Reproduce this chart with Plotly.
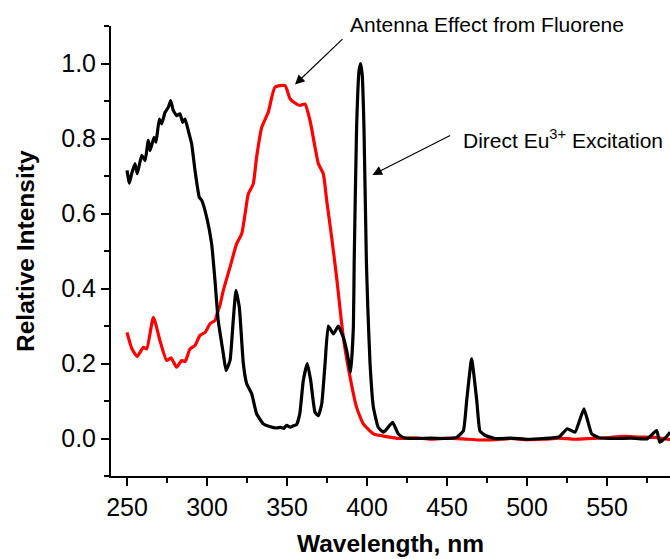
import plotly.graph_objects as go

# Black curve (Eu3+ direct excitation spectrum)
black_x = [250, 251.5, 252.9, 255, 256.4, 259.2, 261.3, 263.3, 264.4, 266.9, 268.1, 270.2, 271.7,
           273.8, 275.8, 277.3, 278.9, 281, 283.1, 284.8, 286.3, 288.3, 290.4, 292.5, 295.2, 296.7,
           299.8, 302.9, 305, 307, 310.2, 311.9, 314.4, 316.4, 318.1, 320.2, 322.7, 324.8, 327.9,
           331, 335.2, 339, 343.6, 346, 348, 349.8, 352, 354, 356, 358, 360.2, 362.7, 364.8, 367.5,
           369.6, 371.7, 373.8, 375.8, 379, 382, 385.2, 387.7, 389.8, 391.5, 392, 393.5, 395, 396,
           397, 398.1, 399.6, 400.5, 401.9, 404, 407, 410.2, 412.3, 416, 419.6, 423, 430, 440, 450,
           456, 460.2, 462.3, 465.4, 468.6, 470.6, 474, 480, 490, 500, 510, 520, 525.2, 530, 535.6,
           540.4, 545, 555, 565, 575, 581, 583, 585.2, 587, 589.4]
black_y = [0.715, 0.681, 0.706, 0.733, 0.706, 0.755, 0.741, 0.795, 0.768, 0.803, 0.79, 0.852, 0.839,
           0.87, 0.883, 0.901, 0.875, 0.861, 0.866, 0.843, 0.852, 0.821, 0.786, 0.715, 0.643, 0.635,
           0.59, 0.519, 0.421, 0.315, 0.226, 0.181, 0.208, 0.315, 0.395, 0.35, 0.2, 0.146, 0.12,
           0.066, 0.039, 0.032, 0.028, 0.030, 0.027, 0.035, 0.030, 0.034, 0.037, 0.066, 0.155, 0.2,
           0.155, 0.07, 0.061, 0.092, 0.2, 0.30, 0.279, 0.30, 0.27, 0.226, 0.177, 0.30, 0.475, 0.83,
           0.98, 1.0, 0.97, 0.83, 0.475, 0.35, 0.2, 0.083, 0.03, 0.017, 0.025, 0.043, 0.012, 0.002,
           0.0, 0.001, 0.0, 0.003, 0.02, 0.101, 0.2125, 0.101, 0.02, 0.008, 0.0, 0.001, -0.002, 0.0,
           0.004, 0.026, 0.017, 0.079, 0.0125, 0.002, 0.0, 0.001, -0.001, 0.021, -0.01, -0.003,
           0.004, 0.017]

# Red curve (antenna effect from fluorene)
red_x = [250, 253, 256.4, 260.2, 262.3, 266.5, 270.6, 274.8, 277.5, 281, 284.2, 286.3, 289.4, 292.5,
         295.6, 298.8, 301.9, 305, 306.5, 308.1, 310.2, 314.4, 318.5, 321.7, 323.8, 325.8, 328.9,
         331, 334.2, 338.3, 342.5, 348.8, 351.9, 356, 358.1, 361.2, 364.4, 367.5, 369.6, 372.7,
         374.8, 377.9, 381, 385.2, 389.4, 393.5, 397.7, 404, 412.3, 420, 430, 440, 450, 460, 470,
         480, 490, 500, 510, 520, 530, 540, 550, 560, 570, 580, 589.4]
red_y = [0.283, 0.24, 0.219, 0.243, 0.239, 0.323, 0.261, 0.208, 0.215, 0.19, 0.208, 0.205, 0.239,
         0.248, 0.275, 0.283, 0.306, 0.315, 0.335, 0.355, 0.395, 0.457, 0.519, 0.546, 0.599, 0.652,
         0.679, 0.75, 0.83, 0.87, 0.937, 0.941, 0.906, 0.892, 0.888, 0.892, 0.848, 0.777, 0.733,
         0.706, 0.635, 0.537, 0.43, 0.27, 0.164, 0.083, 0.039, 0.0125, 0.005, 0.0, 0.002, -0.002,
         0.001, -0.001, -0.004, -0.003, 0.0, -0.003, -0.002, 0.001, -0.002, 0.0, 0.002, 0.006,
         0.004, 0.003, -0.003]

FONT = "Arial, Liberation Sans, sans-serif"

fig = go.Figure()
fig.add_trace(go.Scatter(x=red_x, y=red_y, mode="lines",
                         line=dict(color="#ff0000", width=3.2, shape="spline", smoothing=0.5),
                         showlegend=False))
fig.add_trace(go.Scatter(x=black_x, y=black_y, mode="lines",
                         line=dict(color="#000000", width=3.2, shape="spline", smoothing=0.4),
                         showlegend=False))

axis_common = dict(showline=True, linecolor="black", linewidth=2, ticks="outside",
                   ticklen=8, tickwidth=1.5, tickcolor="black", showgrid=False,
                   zeroline=False, tickfont=dict(family=FONT, size=25, color="black"))

fig.update_xaxes(range=[240, 589.375], tick0=250, dtick=50,
                 minor=dict(dtick=25, tick0=250, ticklen=5, tickwidth=1.5, tickcolor="black",
                            ticks="outside", showgrid=False),
                 **axis_common)
fig.update_yaxes(range=[-0.1, 1.1], tick0=0, dtick=0.2, tickformat=".1f",
                 minor=dict(dtick=0.1, tick0=0, ticklen=5, tickwidth=1.5, tickcolor="black",
                            ticks="outside", showgrid=False),
                 **axis_common)

annotations = [
    dict(text="<b>Wavelength, nm</b>", xref="paper", yref="paper", x=0.5, y=0,
         xanchor="center", yanchor="middle", yshift=-67, showarrow=False,
         font=dict(family=FONT, size=24.5, color="black")),
    dict(text="<b>Relative Intensity</b>", xref="paper", yref="paper", x=0, y=0.5,
         xanchor="center", yanchor="middle", xshift=-86, textangle=-90, showarrow=False,
         font=dict(family=FONT, size=24.5, color="black")),
    dict(text="Antenna Effect from Fluorene", xref="x", yref="paper", x=388.1, y=(1.104 + 0.1) / 1.2,
         xanchor="left", yanchor="middle", showarrow=False,
         font=dict(family=FONT, size=21, color="black")),
    dict(text="Direct Eu<sup>3+</sup> Excitation", xref="x", yref="y", x=458.75, y=0.80,
         xanchor="left", yanchor="middle", showarrow=False,
         font=dict(family=FONT, size=21, color="black")),
    dict(text="", xref="x", yref="y", x=355, y=0.944, axref="x", ayref="y", ax=385.6, ay=1.069,
         showarrow=True, arrowhead=2, arrowsize=1.6, arrowwidth=1.2, arrowcolor="black",
         standoff=0, startstandoff=0),
    dict(text="", xref="x", yref="y", x=403.4, y=0.703, axref="x", ayref="y", ax=452.9, ay=0.81,
         showarrow=True, arrowhead=2, arrowsize=1.6, arrowwidth=1.2, arrowcolor="black",
         standoff=0, startstandoff=0),
]

fig.update_layout(width=670, height=559, margin=dict(l=111, r=0, t=26, b=83),
                  plot_bgcolor="white", paper_bgcolor="white", annotations=annotations,
                  font=dict(family=FONT, color="black"))

fig.write_html("out.html")
